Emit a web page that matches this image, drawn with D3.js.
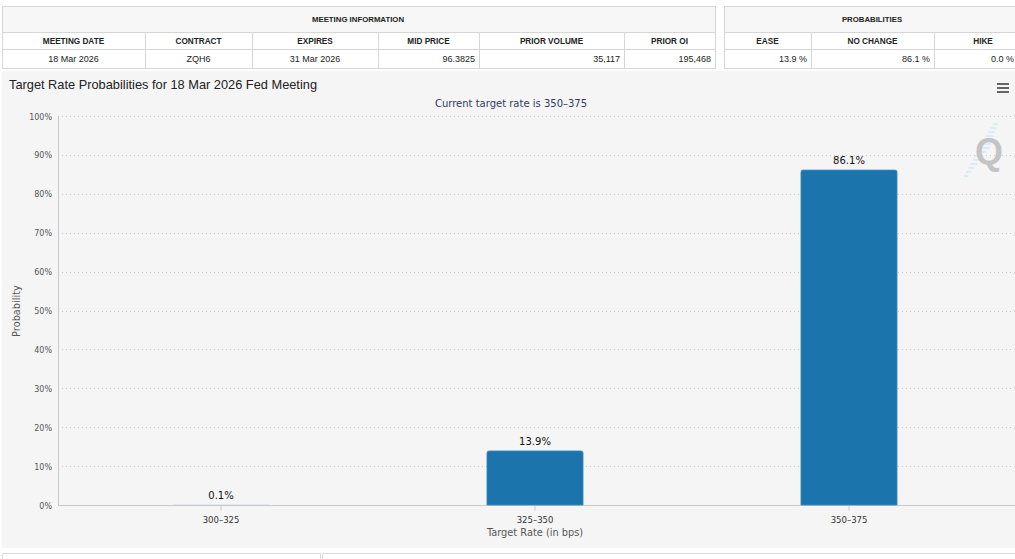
<!DOCTYPE html>
<html><head><meta charset="utf-8">
<script src="https://cdn.jsdelivr.net/npm/d3@7"></script>
<style>
html,body{margin:0;padding:0;background:#fff;}
svg{display:block;}
</style></head>
<body>
<script>
// ---- data ----
const categories = ["300–325", "325–350", "350–375"];
const probabilities = [0.1, 13.9, 86.1];
const valueLabels = ["0.1%", "13.9%", "86.1%"];
const yTicks = [0, 10, 20, 30, 40, 50, 60, 70, 80, 90, 100];
const meetingHeaders = ["MEETING DATE", "CONTRACT", "EXPIRES", "MID PRICE", "PRIOR VOLUME", "PRIOR OI"];
const meetingValues = ["18 Mar 2026", "ZQH6", "31 Mar 2026", "96.3825", "35,117", "195,468"];
const probHeaders = ["EASE", "NO CHANGE", "HIKE"];
const probValues = ["13.9 %", "86.1 %", "0.0 %"];
const chartTitle = "Target Rate Probabilities for 18 Mar 2026 Fed Meeting";
const chartSubtitle = "Current target rate is 350–375";
const xTitle = "Target Rate (in bps)";
const yTitle = "Probability";

const W = 1015, H = 559;
const svg = d3.select("body").append("svg").attr("width", W).attr("height", H);

// ---- tables ----
function drawTable(x0, x1, title, titleX, dividers, headers, headerX, values, aligns, valueX) {
  const g = svg.append("g");
  const yTop = 6, y1 = 32, y2 = 49, y3 = 68;
  const border = "#d6d6d6";
  g.append("rect").attr("x", x0 + 0.5).attr("y", yTop + 0.5).attr("width", x1 - x0).attr("height", y1 - yTop)
    .attr("fill", "#f7f7f7").attr("stroke", border);
  g.append("rect").attr("x", x0 + 0.5).attr("y", y1 + 0.5).attr("width", x1 - x0).attr("height", y3 - y1)
    .attr("fill", "#fff").attr("stroke", border);
  g.append("line").attr("x1", x0).attr("x2", x1).attr("y1", y2 + 0.5).attr("y2", y2 + 0.5).attr("stroke", border);
  dividers.forEach(d => g.append("line").attr("x1", d + 0.5).attr("x2", d + 0.5).attr("y1", y1).attr("y2", y3).attr("stroke", border));
  g.append("text").attr("x", titleX).attr("y", 22)
    .attr("text-anchor", "middle").attr("font-family", "Liberation Sans, Arial, sans-serif")
    .attr("font-weight", "bold").attr("font-size", 7.8).attr("fill", "#222").text(title);
  const edges = [x0].concat(dividers).concat([x1]);
  headers.forEach((h, i) => {
    const cx = headerX[i] != null ? headerX[i] : (edges[i] + edges[i + 1]) / 2;
    g.append("text").attr("x", cx).attr("y", 44).attr("text-anchor", "middle")
      .attr("font-family", "Liberation Sans, Arial, sans-serif").attr("font-weight", "bold")
      .attr("font-size", 8.2).attr("textLength", null).attr("fill", "#222").text(h);
  });
  values.forEach((v, i) => {
    const a = aligns[i];
    let xx = a === "middle" ? (edges[i] + edges[i + 1]) / 2 : edges[i + 1] - 4;
    if (valueX[i] != null) xx = valueX[i];
    g.append("text").attr("x", xx).attr("y", 62).attr("text-anchor", a)
      .attr("font-family", "Liberation Sans, Arial, sans-serif")
      .attr("font-size", 9).attr("fill", "#222").text(v);
  });
}
drawTable(2, 715, "MEETING INFORMATION", 358, [145, 252, 378, 479, 624], meetingHeaders, [], meetingValues,
  ["middle", "middle", "middle", "end", "end", "end"], []);
drawTable(724, 1042, "PROBABILITIES", 872, [811, 934], probHeaders, [null, null, 983], probValues,
  ["end", "end", "end"], [null, null, 1014]);

// ---- chart background ----
svg.append("rect").attr("x", 2).attr("y", 71).attr("width", W).attr("height", 477).attr("rx", 2).attr("fill", "#f5f5f5");
// bottom boxes
svg.append("rect").attr("x", 2.5).attr("y", 553.5).attr("width", 318).attr("height", 20).attr("fill", "#fff").attr("stroke", "#ddd");
svg.append("rect").attr("x", 322.5).attr("y", 553.5).attr("width", 720).attr("height", 20).attr("fill", "#fff").attr("stroke", "#ddd");

// ---- scales ----
const x = d3.scaleBand().domain(categories).range([64, 1006]).paddingInner(0.694).paddingOuter(0.347);
const y = d3.scaleLinear().domain([0, 100]).range([505, 116]);

// grid
svg.append("g").selectAll("line").data(yTicks.filter(t => t > 0)).join("line")
  .attr("x1", 58).attr("x2", W).attr("y1", d => Math.round(y(d)) + 0.5).attr("y2", d => Math.round(y(d)) + 0.5)
  .attr("stroke", "#c8c8c8").attr("stroke-dasharray", "1,3");

// y axis
const yAxis = d3.axisLeft(y).tickValues(yTicks).tickFormat(d => d + "%").tickSize(0).tickPadding(6);
const gy = svg.append("g").attr("transform", "translate(58,0.5)").call(yAxis);
gy.select(".domain").remove();
gy.selectAll("text").attr("font-family", "DejaVu Sans, sans-serif").attr("font-size", 8).attr("fill", "#555");
svg.append("line").attr("x1", 58.5).attr("x2", 58.5).attr("y1", 116).attr("y2", 505).attr("stroke", "#c8c8c8");

// x axis
const xAxis = d3.axisBottom(x).tickSize(5).tickPadding(6);
const gx = svg.append("g").attr("transform", "translate(0,505.5)").call(xAxis);
gx.select(".domain").remove();
gx.selectAll(".tick line").attr("stroke", "#c8c8c8");
gx.selectAll("text").attr("font-family", "DejaVu Sans, sans-serif").attr("font-size", 8.5).attr("fill", "#333");
svg.append("line").attr("x1", 58).attr("x2", W).attr("y1", 505.5).attr("y2", 505.5).attr("stroke", "#c8c8c8");

// bars
const bars = categories.map((c, i) => ({ c, v: probabilities[i], label: valueLabels[i] }));
svg.append("g").selectAll("path").data(bars).join("path")
  .attr("d", d => {
    const x0 = x(d.c), w = x.bandwidth(), y0 = y(d.v), y1 = y(0), r = Math.min(2, (y1 - y0) / 2);
    return `M${x0},${y1}V${y0 + r}Q${x0},${y0} ${x0 + r},${y0}H${x0 + w - r}Q${x0 + w},${y0} ${x0 + w},${y0 + r}V${y1}Z`;
  })
  .attr("fill", "#1c74ad")
  .attr("stroke", d => (y(0) - y(d.v)) > 2 ? "#3a8cc4" : "none").attr("stroke-width", 0.8)
  .attr("fill-opacity", d => (y(0) - y(d.v)) > 2 ? 1 : 0.15);

// value labels
svg.append("g").selectAll("text").data(bars).join("text")
  .attr("x", d => x(d.c) + x.bandwidth() / 2).attr("y", d => y(d.v) - 6)
  .attr("text-anchor", "middle").attr("font-family", "DejaVu Sans, sans-serif").attr("font-size", 10)
  .attr("fill", "#111").text(d => d.label);

// titles
svg.append("text").attr("x", 9).attr("y", 89).attr("font-family", "Liberation Sans, Arial, sans-serif")
  .attr("font-size", 12.8).attr("fill", "#222").text(chartTitle);
svg.append("text").attr("x", 511).attr("y", 107).attr("text-anchor", "middle").attr("font-family", "DejaVu Sans, sans-serif")
  .attr("font-size", 10).attr("fill", "#333a66").text(chartSubtitle);
svg.append("text").attr("x", 535).attr("y", 536).attr("text-anchor", "middle").attr("font-family", "DejaVu Sans, sans-serif")
  .attr("font-size", 9.8).attr("fill", "#555").text(xTitle);
svg.append("text").attr("transform", "translate(20,311) rotate(-90)").attr("text-anchor", "middle")
  .attr("font-family", "DejaVu Sans, sans-serif").attr("font-size", 9.8).attr("fill", "#555").text(yTitle);

// menu icon
[83, 87, 91].forEach(yy => svg.append("rect").attr("x", 997).attr("y", yy).attr("width", 12).attr("height", 2).attr("fill", "#666"));

// Q watermark
const wm = svg.append("g");
for (let i = 0; i < 14; i++) {
  const yy = 176 - i * 4;
  const xx = 964 + i * 2.2;
  wm.append("line").attr("x1", xx).attr("x2", xx + 10 - Math.abs(i - 7) * 0.8).attr("y1", yy).attr("y2", yy)
    .attr("stroke", "#cfe8f5").attr("stroke-width", 1.5);
}
wm.append("text").attr("x", 989).attr("y", 164).attr("text-anchor", "middle").attr("font-family", "Liberation Sans, Arial, sans-serif")
  .attr("font-weight", "bold").attr("font-size", 36).attr("fill", "#c4c4c4").text("Q");
</script>
</body></html>
